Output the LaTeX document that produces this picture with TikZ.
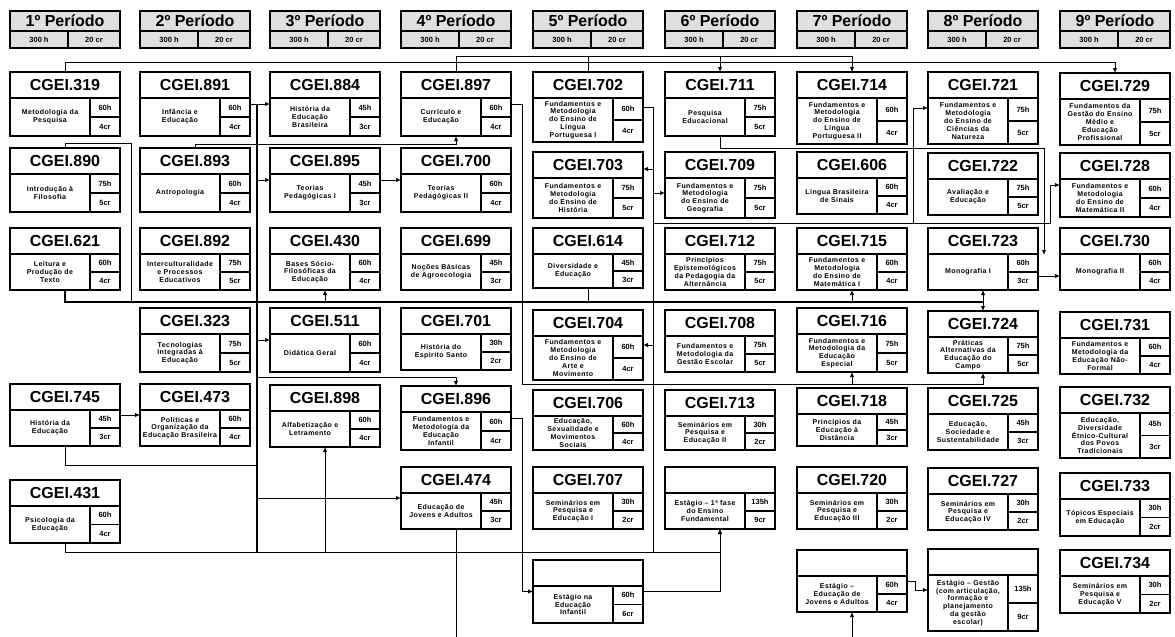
\documentclass[tikz,border=0pt]{standalone}
\usepackage{fontspec}
\setmainfont{Liberation Sans}
\newfontfamily\boxfont[LetterSpace=6]{Liberation Sans}
\usetikzlibrary{arrows.meta,calc}
\tikzset{cbox/.style={draw, line width=1.4pt, minimum width=110pt, inner sep=0pt, outer sep=0pt},
  hdr/.style={cbox, fill=gray!25, minimum height=37pt},
  sep/.style={line width=1.1pt},
  code/.style={font=\fontsize{16}{16}\selectfont\bfseries, inner sep=0pt},
  txt/.style={font=\boxfont\bfseries\fontsize{7}{7.8}\selectfont, align=center, inner sep=0pt},
  num/.style={font=\fontsize{7.5}{8}\selectfont\bfseries, inner sep=0pt},
  lnk/.style={line width=1pt},
  bus/.style={line width=1.9pt},
  arr/.style={lnk, -{Latex[length=5pt,width=4.5pt]}}}

\begin{document}
\begin{tikzpicture}[x=1pt, y=-1pt]
  \useasboundingbox (0,0) rectangle (1175,637);
  % period headers
  \foreach \i/\x in {1/10,2/140,3/270,4/401,5/533,6/665,7/797,8/928,9/1060}{
    \node[hdr] (p\i) at (\x+55,29.5) {};
    \draw[sep] ($(p\i.west)+(0,1.5)$) -- ($(p\i.east)+(0,1.5)$);
    \draw[sep] ($(p\i.south west)+(58,0)$) -- ($(p\i.west)+(58,1.5)$);
    \node[code] (p\i-t) at ($(p\i.north)+(0,10)$) {\i º Período};
    \node[num] (p\i-h) at ($(p\i.south west)+(29,-8.5)$) {300 h};
    \node[num] (p\i-c) at ($(p\i.south west)+(84,-8.5)$) {20 cr};
  }
  % course boxes: name/left/top/height/code/title/hours/credits
  \foreach \n/\x/\y/\h/\code/\txt/\hr/\crd in {
    319/10/72/64/CGEI.319/{Metodologia da\\Pesquisa}/60h/4cr,
    890/10/148/64/CGEI.890/{Introdução à\\Filosofia}/75h/5cr,
    621/10/228/62/CGEI.621/{Leitura e\\Produção de\\Texto}/60h/4cr,
    745/10/384/62/CGEI.745/{História da\\Educação}/45h/3cr,
    431/10/480/63/CGEI.431/{Psicologia da\\Educação}/60h/4cr,
    891/140/72/64/CGEI.891/{Infância e\\Educação}/60h/4cr,
    893/140/148/64/CGEI.893/{Antropologia}/60h/4cr,
    892/140/228/62/CGEI.892/{Interculturalidade\\e Processos\\Educativos}/75h/5cr,
    323/140/308/64/CGEI.323/{Tecnologias\\Integradas à\\Educação}/75h/5cr,
    473/140/384/62/CGEI.473/{Políticas e\\Organização da\\Educação Brasileira}/60h/4cr,
    884/270/72/64/CGEI.884/{História da\\Educação\\Brasileira}/45h/3cr,
    895/270/148/64/CGEI.895/{Teorias\\Pedagógicas I}/45h/3cr,
    430/270/228/62/CGEI.430/{Bases Sócio-\\Filosóficas da\\Educação}/60h/4cr,
    511/270/308/64/CGEI.511/{Didática Geral}/60h/4cr,
    898/270/385/62/CGEI.898/{Alfabetização e\\Letramento}/60h/4cr,
    897/401/72/64/CGEI.897/{Currículo e\\Educação}/60h/4cr,
    700/401/148/64/CGEI.700/{Teorias\\Pedagógicas II}/60h/4cr,
    699/401/228/62/CGEI.699/{Noções Básicas\\de Agroecologia}/45h/3cr,
    701/401/308/62/CGEI.701/{História do\\Espírito Santo}/30h/2cr,
    896/401/386/64/CGEI.896/{Fundamentos e\\Metodologia da\\Educação\\Infantil}/60h/4cr,
    474/401/467/62/CGEI.474/{Educação de\\Jovens e Adultos}/45h/3cr,
    702/533/72/70/CGEI.702/{Fundamentos e\\Metodologia\\do Ensino de\\Língua\\Portuguesa I}/60h/4cr,
    703/533/152/66/CGEI.703/{Fundamentos e\\Metodologia\\do Ensino de\\História}/75h/5cr,
    614/533/228/60/CGEI.614/{Diversidade e\\Educação}/45h/3cr,
    704/533/310/70/CGEI.704/{Fundamentos e\\Metodologia\\do Ensino de\\Arte e\\Movimento}/60h/4cr,
    706/533/390/60/CGEI.706/{Educação,\\Sexualidade e\\Movimentos\\Sociais}/60h/4cr,
    707/533/467/62/CGEI.707/{Seminários em\\Pesquisa e\\Educação I}/30h/2cr,
    est5/533/560/63/{}/{Estágio na\\Educação\\Infantil}/60h/6cr,
    711/665/72/64/CGEI.711/{Pesquisa\\Educacional}/75h/5cr,
    709/665/152/66/CGEI.709/{Fundamentos e\\Metodologia\\do Ensino de\\Geografia}/75h/5cr,
    712/665/228/62/CGEI.712/{Princípios\\Epistemológicos\\da Pedagogia da\\Alternância}/75h/5cr,
    708/665/310/62/CGEI.708/{Fundamentos e\\Metodologia da\\Gestão Escolar}/75h/5cr,
    713/665/390/60/CGEI.713/{Seminários em\\Pesquisa e\\Educação II}/30h/2cr,
    est6/665/467/62/{}/{Estágio – 1ª fase\\do Ensino\\Fundamental}/135h/9cr,
    714/797/72/72/CGEI.714/{Fundamentos e\\Metodologia\\do Ensino de\\Língua\\Portuguesa II}/60h/4cr,
    606/797/152/62/CGEI.606/{Língua Brasileira\\de Sinais}/60h/4cr,
    715/797/228/62/CGEI.715/{Fundamentos e\\Metodologia\\do Ensino de\\Matemática I}/60h/4cr,
    716/797/308/64/CGEI.716/{Fundamentos e\\Metodologia da\\Educação\\Especial}/75h/5cr,
    718/797/388/58/CGEI.718/{Princípios da\\Educação à\\Distância}/45h/3cr,
    720/797/467/62/CGEI.720/{Seminários em\\Pesquisa e\\Educação III}/30h/2cr,
    est7/797/550/62/{}/{Estágio –\\Educação de\\Jovens e Adultos}/60h/4cr,
    721/928/72/72/CGEI.721/{Fundamentos e\\Metodologia\\do Ensino de\\Ciências da\\Natureza}/75h/5cr,
    722/928/153/62/CGEI.722/{Avaliação e\\Educação}/75h/5cr,
    723/928/228/62/CGEI.723/{Monografia I}/60h/3cr,
    724/928/311/62/CGEI.724/{Práticas\\Alternativas da\\Educação do\\Campo}/75h/5cr,
    725/928/388/62/CGEI.725/{Educação,\\Sociedade e\\Sustentabilidade}/45h/3cr,
    727/928/468/62/CGEI.727/{Seminários em\\Pesquisa e\\Educação IV}/30h/2cr,
    est8/928/549/82/{}/{Estágio – Gestão\\(com articulação,\\formação e\\planejamento\\da gestão\\escolar)}/135h/9cr,
    729/1060/73/72/CGEI.729/{Fundamentos da\\Gestão do Ensino\\Médio e\\Educação\\Profissional}/75h/5cr,
    728/1060/153/64/CGEI.728/{Fundamentos e\\Metodologia\\do Ensino de\\Matemática II}/60h/4cr,
    730/1060/228/62/CGEI.730/{Monografia II}/60h/4cr,
    731/1060/312/62/CGEI.731/{Fundamentos e\\Metodologia da\\Educação Não-\\Formal}/60h/4cr,
    732/1060/387/71/CGEI.732/{Educação,\\Diversidade\\Étnico-Cultural\\dos Povos\\Tradicionais}/45h/3cr,
    733/1060/473/63/CGEI.733/{Tópicos Especiais\\em Educação}/30h/2cr,
    734/1060/550/63/CGEI.734/{Seminários em\\Pesquisa e\\Educação V}/30h/2cr}{
    \node[cbox, minimum height=\h*1pt] (c\n) at (\x+55,\y+\h/2) {};
    \draw[sep] ($(c\n.north west)+(0,26)$) -- ($(c\n.north east)+(0,26)$);
    \draw[sep] ($(c\n.north east)+(-30,26)$) -- ($(c\n.south east)+(-30,0)$);
    \draw[sep] ($(c\n.east)+(-30,13)$) -- ($(c\n.east)+(0,13)$);
    \node[code] (c\n-code) at ($(c\n.north)+(0,13)$) {\code};
    \node[txt] (c\n-txt) at ($(c\n.center)+(-15,13)$) {\txt};
    \node[num] (c\n-h) at ($(c\n.east)+(-15,{19.5-\h/4})$) {\hr};
    \node[num] (c\n-cr) at ($(c\n.east)+(-15,{6.5+\h/4})$) {\crd};
  }
  % bend points of the connectors
  \coordinate (busT) at (257,104);
  \coordinate (busB) at (257,552);
  \coordinate (k890) at (131,302);
  \coordinate (k723) at (983,302);
  \coordinate (k897) at (522,384);
  \coordinate (k896) at (257,377);
  \coordinate (k745) at (257,465);
  \coordinate (k702) at (653,552);
  \coordinate (k721) at (913,223);
  \coordinate (bot) at (0,637);
  % top lines
  \draw[arr] (c319.north) -- ++(0,-10) -| (c729.north);
  \draw[lnk] (c897.north) -- ++(0,-16) -| (c702.north);
  \draw[arr] (c897.north) -- ++(0,-16) -| (c711.north);
  \draw[arr] (c897.north) -- ++(0,-16) -| (c714.north);
  % left bus
  \draw[arr] (c891.east) -- (c884.west);
  \draw[bus] (busT) -- (busB);
  \draw[arr] (c895.west -| busT) -- (c895.west);
  \draw[arr] (c511.west -| busT) -- (c511.west);
  \draw[arr] (c893.north) -- ++(0,-4) -| (c897.south);
  \draw[arr] (c895.east) -- (c700.west);
  % row 3 line
  \draw[lnk] (c890.north) -- ++(0,-5) -| (k890);
  \draw[bus] (c621.south) |- (k723);
  \draw[lnk] (c614.south) -- (c614.south |- k723);
  \draw[arr] (c430.south |- k723) -- (c430.south);
  \draw[arr] (c715.south |- k723) -- (c715.south);
  \draw[arr] (k723) -- (c723.south);
  \draw[arr] (k723) -- (c724.north);
  % from CGEI.897
  \draw[arr] (c897.east) -| (k897) -| (c724.south);
  \draw[arr] (c716.south |- k897) -- (c716.south);
  \draw[arr] (k896) -| (c896.north);
  % lower left
  \draw[arr] (c745.east) -- (c473.west);
  \draw[lnk] (c745.south) |- (k745);
  \draw[arr] (c474.west -| busT) -- (c474.west);
  \draw[arr] (c431.south) |- (cest6.south |- busB) -- (cest6.south);
  \draw[arr] (c898.south |- busB) -- (c898.south);
  \draw[lnk] (c474.south) -- (c474.south |- bot);
  \draw[arr] (c896.east) -| ($(cest5.west)+(-11,0)$) -- (cest5.west);
  \draw[arr] (cest5.east) -| (cest6.south);
  % bus of CGEI.702
  \draw[lnk] (c702.east) -| (k702);
  \draw[arr] ($(c703.east -| k702)+(0,-16)$) -- ($(c703.east)+(0,-16)$);
  \draw[arr] ($(c709.west -| k702)+(0,8)$) -- ($(c709.west)+(0,8)$);
  \draw[arr] (c704.east -| k702) -- (c704.east);
  \draw[lnk] (k702 |- k721) -- (k721);
  \draw[arr] (k721) |- (c721.west);
  \draw[arr] (k721) -| ($(c728.west)+(-10,0)$) -- (c728.west);
  % right part
  \draw[arr] (c711.south) -- ++(0,12) -| ($(c723.east)+(6,-4)$);
  \draw[arr] ($(c723.east)+(0,17)$) -- ($(c730.west)+(0,17)$);
  \draw[arr] (cest7.south |- bot) -- (cest7.south);
  \draw[arr] (cest7.east) -- ++(8,0) |- (cest8.west);
\end{tikzpicture}
\end{document}
